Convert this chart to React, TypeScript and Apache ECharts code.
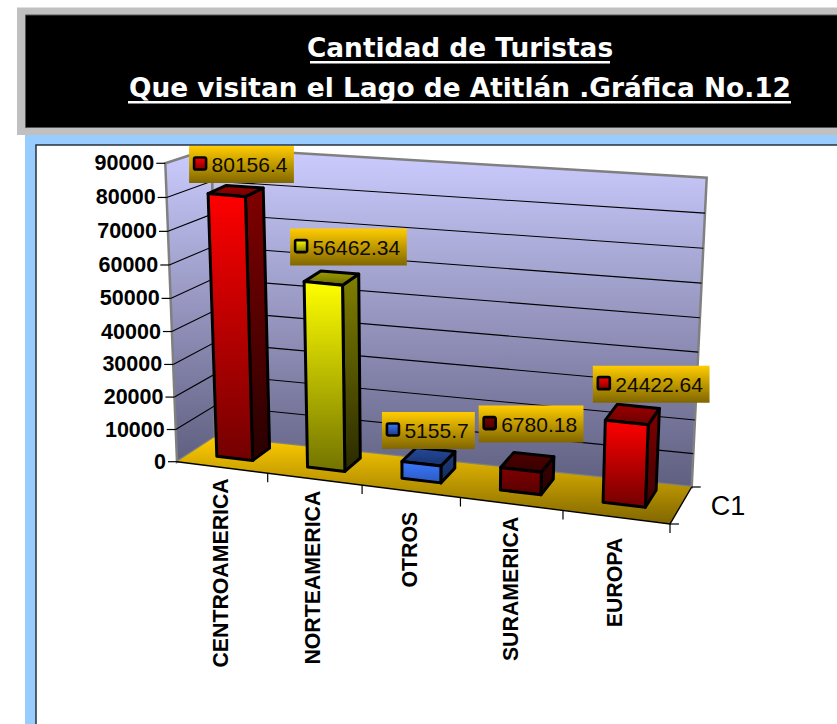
import React, { useEffect, useRef } from "react";
import * as echarts from "echarts";

const titleLines = ["Cantidad de Turistas", "Que visitan el Lago de Atitlán .Gráfica No.12"];
const categories = ["CENTROAMERICA", "NORTEAMERICA", "OTROS", "SURAMERICA", "EUROPA"];
const values = [80156.4, 56462.34, 5155.7, 6780.18, 24422.64];
const yTicks = [0, 10000, 20000, 30000, 40000, 50000, 60000, 70000, 80000, 90000];
const seriesName = "C1";
const barColors = ["#ff0000", "#ffff00", "#3a78ff", "#800000", "#ff0000"];
const frontShade = [0.45, 0.45, 0.75, 0.68, 0.45];
const sideShade = [0.16, 0.16, 0.35, 0.3, 0.25];

// Layout of the oblique box: pixel corners of the 3D chart walls.
const FLB = [177, 461.7], FRB = [670, 524], BLB = [215, 437], BRB = [691.7, 487];
const FLT = [165.3, 163.3], FRT = [680.5, 210], BLT = [212, 148], BRT = [706.7, 177.7];
const BAR_BLT = [205, 148]; // bars lean a little more than the back wall's left edge
const GRID = { left: 177, top: 163, width: 493, height: 298 };
const Z0 = 0.35, Z1 = 0.82;
// Layout of data-label boxes relative to a bar's top-front-left corner: [dx, dy of box top]
const LABEL_OFFSETS = [[-19, -47.5], [-14, -53], [-20, -49.5], [-22, -62], [-12.5, -54.5]];
// Layout of category labels: offset from the front axis at the category centre.
const CAT_OFFSETS = [[-1.2, 10.9], [-1.4, 11.6], [-0.8, 20.5], [-0.2, 12.8], [-0.9, 20.5]];

const lerp = (a: number[], b: number[], t: number) => [a[0] + (b[0] - a[0]) * t, a[1] + (b[1] - a[1]) * t];
const persp = (t: number, c: number) => t / (1 + c * (1 - t));

function project(px: number, py: number, z: number, cs: any, blt: number[] = BLT) {
  const u = persp((px - cs.x) / cs.width, 0.109);
  const v = persp((cs.y + cs.height - py) / cs.height, 0.034);
  const bottom = lerp(lerp(FLB, FRB, u), lerp(BLB, BRB, u), z);
  const top = lerp(lerp(FLT, FRT, u), lerp(blt, BRT, u), z);
  return lerp(bottom, top, v);
}

const shade = (hex: string, k: number) => {
  const n = parseInt(hex.slice(1), 16);
  const c = (s: number) => Math.round(((n >> s) & 255) * k);
  return `rgb(${c(16)},${c(8)},${c(0)})`;
};
const vGrad = (a: string, b: string) =>
  new echarts.graphic.LinearGradient(0, 0, 0, 1, [
    { offset: 0, color: a },
    { offset: 1, color: b },
  ]);
const GOLD = () => vGrad("#ffcc00", "#806600");
const FONT = '"Liberation Sans", Arial, sans-serif';

const custom = (name: string, data: any[], renderItem: any, z: number) => ({
  type: "custom",
  name,
  data,
  z,
  silent: true,
  clip: false,
  encode: { x: 0, y: 1 },
  renderItem,
});

function App() {
  const ref = useRef<HTMLDivElement>(null);
  useEffect(() => {
    const chart = echarts.init(ref.current!, null, { renderer: "svg" });
    const bandX = (api: any, i: number) => {
      const c = api.coord([i, 0])[0];
      const b = api.size([1, 0])[0];
      return { c, b };
    };

    const renderWalls = (params: any, api: any) => {
      const cs = params.coordSys;
      const R = cs.x + cs.width, T = cs.y, B = cs.y + cs.height, L = cs.x;
      const P = (x: number, y: number, z: number) => project(x, y, z, cs);
      const wallStyle = { fill: vGrad("#ccccff", "#5f5f80") };
      return {
        type: "group",
        children: [
          { type: "polygon", shape: { points: [P(L, T, 0), P(L, T, 1), P(L, B, 1), P(L, B, 0)] },
            style: { ...wallStyle, stroke: "#808080", lineWidth: 2.5 } },
          { type: "polygon", shape: { points: [P(L, T, 1), P(R, T, 1), P(R, B, 1), P(L, B, 1)] },
            style: { ...wallStyle, stroke: "#808080", lineWidth: 2.5 } },
          { type: "polygon", shape: { points: [P(L, B, 0), P(L, B, 1), P(R, B, 1), P(R, B, 0)] },
            style: { fill: GOLD() } },
          { type: "polyline", shape: { points: [P(L, B, 0), P(R, B, 0), P(R, B, 1)] },
            style: { fill: "none", stroke: "#000", lineWidth: 1.4 } },
        ],
      };
    };

    const renderGrid = (params: any, api: any) => {
      const cs = params.coordSys;
      const v = api.value(1);
      const y = api.coord([0, v])[1];
      const L = cs.x, R = cs.x + cs.width;
      const a = project(L, y, 0, cs), b = project(L, y, 1, cs), c = project(R, y, 1, cs);
      const children: any[] = [
        { type: "line", shape: { x1: a[0], y1: a[1], x2: a[0] - 9, y2: a[1] }, style: { stroke: "#000", lineWidth: 1.2 } },
        { type: "text", x: a[0] - 11, y: a[1], style: { text: String(v), align: "right", verticalAlign: "middle", font: `bold 21.5px ${FONT}`, fill: "#000" } },
      ];
      if (v > 0 && v < 90000) {
        children.push({ type: "polyline", shape: { points: [a, b, c] }, style: { fill: "none", stroke: "#000", lineWidth: 1.1 } });
      }
      return { type: "group", children };
    };

    const renderCats = (params: any, api: any) => {
      const cs = params.coordSys;
      const i = api.value(0);
      const { c, b } = bandX(api, i);
      const y0 = cs.y + cs.height;
      const tick = project(c + b / 2, y0, 0, cs);
      const mid = project(c, y0, 0, cs);
      const off = CAT_OFFSETS[i];
      return {
        type: "group",
        children: [
          { type: "line", shape: { x1: tick[0], y1: tick[1], x2: tick[0], y2: tick[1] + 9 }, style: { stroke: "#000", lineWidth: 1.2 } },
          { type: "text", x: mid[0] + off[0], y: mid[1] + off[1], rotation: Math.PI / 2,
            style: { text: categories[i], align: "right", verticalAlign: "middle", font: `bold 21.3px ${FONT}`, fill: "#000" } },
        ],
      };
    };

    const renderDepth = (params: any) => {
      const cs = params.coordSys;
      const R = cs.x + cs.width, B = cs.y + cs.height;
      const f = project(R, B, 0, cs), k = project(R, B, 1, cs), m = project(R, B, 0.5, cs);
      return {
        type: "group",
        children: [
          { type: "line", shape: { x1: f[0], y1: f[1], x2: f[0] + 9, y2: f[1] }, style: { stroke: "#000", lineWidth: 1.2 } },
          { type: "line", shape: { x1: k[0], y1: k[1], x2: k[0] + 9, y2: k[1] }, style: { stroke: "#000", lineWidth: 1.2 } },
          { type: "text", x: m[0] + 30, y: m[1], style: { text: seriesName, align: "left", verticalAlign: "middle", font: `27px ${FONT}`, fill: "#000" } },
        ],
      };
    };

    const barFrame = (api: any, cs: any) => {
      const i = api.value(0);
      const { c, b } = bandX(api, i);
      const x0 = c - b * 0.2, x1 = c + b * 0.2;
      const y0 = api.coord([i, 0])[1], y1 = api.coord([i, api.value(1)])[1];
      const P = (x: number, y: number, z: number) => project(x, y, z, cs, BAR_BLT);
      return { i, x0, x1, y0, y1, P };
    };

    const renderBar = (params: any, api: any) => {
      const { i, x0, x1, y0, y1, P } = barFrame(api, params.coordSys);
      const col = barColors[i];
      const st = { stroke: "#000", lineWidth: 3, lineJoin: "round" };
      return {
        type: "group",
        children: [
          { type: "polygon", shape: { points: [P(x1, y1, Z0), P(x1, y1, Z1), P(x1, y0, Z1), P(x1, y0, Z0)] },
            style: { ...st, fill: vGrad(shade(col, 0.5), shade(col, sideShade[i])) } },
          { type: "polygon", shape: { points: [P(x0, y1, Z0), P(x0, y1, Z1), P(x1, y1, Z1), P(x1, y1, Z0)] },
            style: { ...st, fill: vGrad(shade(col, 0.62), shade(col, 0.42)) } },
          { type: "polygon", shape: { points: [P(x0, y1, Z0), P(x1, y1, Z0), P(x1, y0, Z0), P(x0, y0, Z0)] },
            style: { ...st, fill: vGrad(col, shade(col, frontShade[i])) } },
        ],
      };
    };

    const renderLabel = (params: any, api: any) => {
      const { i, x0, y1, P } = barFrame(api, params.coordSys);
      const a = P(x0, y1, Z0);
      const off = LABEL_OFFSETS[i];
      const text = String(values[i]);
      const w = 23 + text.length * 11.9 - 1.5;
      const x = a[0] + off[0], y = a[1] + off[1];
      return {
        type: "group",
        children: [
          { type: "rect", shape: { x, y, width: w, height: 37 }, style: { fill: GOLD() } },
          { type: "rect", shape: { x: x + 5, y: y + 11.5, width: 12, height: 12, r: 1.5 },
            style: { fill: vGrad(barColors[i], shade(barColors[i], 0.5)), stroke: "#000", lineWidth: 2.6 } },
          { type: "text", x: x + 22.5, y: y + 18.5,
            style: { text, align: "left", verticalAlign: "middle", font: `21px ${FONT}`, fill: "#0d0a00" } },
        ],
      };
    };

    const pairs = values.map((v, i) => [i, v]);
    chart.setOption({
      animation: false,
      backgroundColor: "#ffffff",
      title: {
        text: titleLines.join("\n"),
        left: 455,
        top: 22,
        textAlign: "center",
        textStyle: { color: "#ffffff", fontFamily: '"Comic Sans MS", "DejaVu Sans", sans-serif', fontWeight: "bold", fontSize: 26.4, lineHeight: 40 },
      },
      grid: { ...GRID },
      xAxis: { type: "category", data: categories, show: false },
      yAxis: { type: "value", min: 0, max: 90000, interval: 10000, show: false },
      graphic: [
        { type: "rect", silent: true, shape: { x: 17, y: 7.5, width: 830, height: 127.5 }, style: { fill: "#c0c0c0" } },
        { type: "rect", silent: true, shape: { x: 25.5, y: 15, width: 820, height: 112.5 }, style: { fill: "#000", stroke: "#555", lineWidth: 1 } },
        { type: "rect", silent: true, shape: { x: 25, y: 135, width: 820, height: 600 }, style: { fill: "#99ccff" } },
        { type: "rect", silent: true, shape: { x: 36, y: 145, width: 820, height: 600 }, style: { fill: "#fff", stroke: "#26323a", lineWidth: 1.5 } },
        { type: "rect", silent: true, z: 10, shape: { x: 310, y: 61, width: 300, height: 2.5 }, style: { fill: "#fff" } },
        { type: "rect", silent: true, z: 10, shape: { x: 128, y: 101, width: 663, height: 2.5 }, style: { fill: "#fff" } },
      ],
      series: [
        custom("walls", [[0, 0]], renderWalls, 2),
        custom("gridlines", yTicks.map((v) => [0, v]), renderGrid, 3),
        custom("categories", categories.map((_, i) => [i, 0]), renderCats, 3),
        custom("depth", [[0, 0]], renderDepth, 3),
        custom("bars", pairs, renderBar, 4),
        custom("labels", pairs, renderLabel, 5),
      ],
    });
    return () => chart.dispose();
  }, []);
  return <div ref={ref} style={{ position: "absolute", left: 0, top: 0, width: 837, height: 724 }} />;
}

export default App;
